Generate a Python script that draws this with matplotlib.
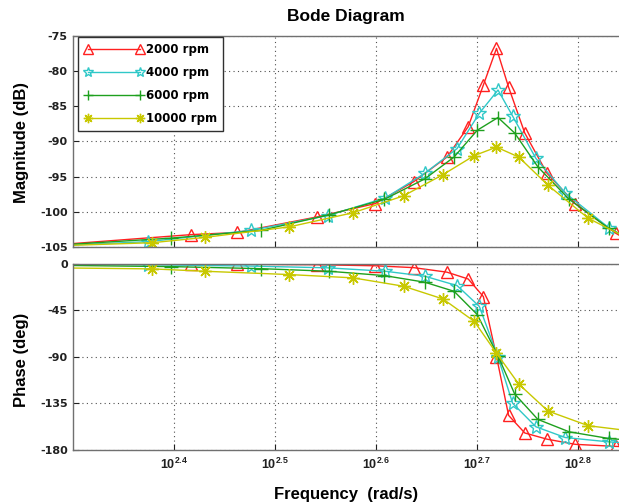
import numpy as np
import matplotlib
matplotlib.use("Agg")
import matplotlib.pyplot as plt
from matplotlib.ticker import FixedLocator, FixedFormatter

# ---- data (frequency exponents log10(rad/s), magnitude dB, phase deg) ----
labels = ["2000 rpm", "4000 rpm", "6000 rpm", "10000 rpm"]

exp_2000 = [2.26, 2.417, 2.462, 2.541, 2.599, 2.637, 2.670, 2.691, 2.706, 2.719, 2.731, 2.747, 2.769, 2.797, 2.837, 2.87]
mag_2000 = [-104.9, -103.2, -102.9, -100.7, -98.8, -95.7, -92.2, -87.9, -82.0, -76.8, -82.3, -88.8, -94.5, -98.8, -103.0, -105.8]
ph_2000 = [-0.3, -0.5, -0.8, -1.2, -2.2, -4.0, -8.4, -15.0, -32.0, -90.0, -147.0, -164.0, -170.0, -175.0, -177.0, -178.0]

exp_4000 = [2.26, 2.374, 2.476, 2.552, 2.609, 2.648, 2.680, 2.702, 2.7205, 2.735, 2.758, 2.787, 2.830, 2.87]
mag_4000 = [-104.9, -104.2, -102.6, -100.5, -98.0, -94.5, -91.0, -86.0, -82.7, -86.4, -92.4, -97.3, -102.2, -105.5]
ph_4000 = [-0.7, -1.2, -2.5, -4.2, -7.5, -12.3, -21.4, -41.5, -90.6, -135.3, -158.0, -168.4, -172.6, -175.0]

exp_6000 = [2.26, 2.397, 2.486, 2.553, 2.608, 2.648, 2.677, 2.700, 2.7205, 2.737, 2.760, 2.791, 2.830, 2.87]
mag_6000 = [-104.9, -103.7, -102.6, -100.4, -98.2, -95.3, -92.2, -88.4, -86.6, -88.8, -93.6, -98.2, -102.3, -105.3]
ph_6000 = [-1.5, -3.0, -5.0, -7.5, -11.7, -18.1, -26.9, -49.5, -89.4, -126.3, -150.9, -162.9, -169.3, -172.5]

exp_10000 = [2.26, 2.378, 2.430, 2.514, 2.577, 2.627, 2.666, 2.697, 2.719, 2.741, 2.770, 2.810, 2.86]
mag_10000 = [-104.9, -104.35, -103.6, -102.1, -100.1, -97.7, -94.7, -92.0, -90.8, -92.2, -96.2, -100.9, -104.5]
ph_10000 = [-4.0, -5.2, -7.5, -10.7, -13.9, -22.0, -34.3, -56.0, -86.8, -116.6, -142.8, -157.0, -163.0]

xtick_exps = [2.4, 2.5, 2.6, 2.7, 2.8]
xtick_labels = ["2.4", "2.5", "2.6", "2.7", "2.8"]
mag_ticks = [-105, -100, -95, -90, -85, -80, -75]
ph_ticks = [-180, -135, -90, -45, 0]

# ---- style ----
colors = ["#ff2020", "#30c8c8", "#1ea01e", "#c8c800"]
markers = ["^", "*", "+", (8, 2, 0)]
msizes = [9, 10, 10, 9]

plt.rcParams["font.family"] = ["Liberation Sans", "DejaVu Sans"]
plt.rcParams["font.weight"] = "bold"
plt.rcParams["mathtext.fontset"] = "custom"
plt.rcParams["mathtext.rm"] = "Liberation Sans:bold"
plt.rcParams["mathtext.bf"] = "Liberation Sans:bold"

W, H = 619, 504
fig = plt.figure(figsize=(W / 100, H / 100), dpi=100)

left = 73.3 / W
right = 1.0
ax1 = fig.add_axes([left, 1 - 247.3 / H, right - left, (247.3 - 35.7) / H])
ax2 = fig.add_axes([left, 1 - 449.5 / H, right - left, (449.5 - 263.5) / H])

series = [
    (exp_2000, mag_2000, ph_2000),
    (exp_4000, mag_4000, ph_4000),
    (exp_6000, mag_6000, ph_6000),
    (exp_10000, mag_10000, ph_10000),
]

xmin = 10 ** 2.3
xmax = 10 ** (2.3 + (619 - 73.3) / 1010.0)

for i, (e, m, p) in enumerate(series):
    w = 10 ** np.array(e)
    kw = dict(color=colors[i], lw=1.0, marker=markers[i], ms=msizes[i],
              mfc="none", mec=colors[i], mew=1.0)
    ax1.semilogx(w, m, label=labels[i], **kw)
    ax2.semilogx(w, p, **kw)

tick_font = dict(family="DejaVu Sans", weight="bold", size=8)

spine_col = "#707070"
for ax in (ax1, ax2):
    ax.set_xlim(xmin, xmax)
    ax.xaxis.set_major_locator(FixedLocator([10 ** v for v in xtick_exps]))
    ax.xaxis.set_minor_locator(FixedLocator([]))
    ax.grid(True, which="major", color="#505050", linestyle=(0, (1, 3)), linewidth=0.8)
    ax.tick_params(direction="in", length=4, width=0.8, colors="#202020",
                   pad=4, top=False, right=False)
    for s in ax.spines.values():
        s.set_color(spine_col)
        s.set_linewidth(1.0)
    ax.spines["right"].set_visible(False)

ax1.set_ylim(-105, -75)
ax1.yaxis.set_major_locator(FixedLocator(mag_ticks))
ax1.set_yticklabels([str(v) for v in mag_ticks], fontdict=tick_font)
ax1.tick_params(axis="x", labelbottom=False)

ax2.set_ylim(-180, 0)
ax2.yaxis.set_major_locator(FixedLocator(ph_ticks))
ax2.set_yticklabels([str(v) for v in ph_ticks], fontdict=tick_font)
ax2.xaxis.set_major_formatter(FixedFormatter([r"$\mathbf{10^{%s}}$" % t for t in xtick_labels]))
ax2.tick_params(axis="x", labelsize=9, pad=5)

leg = ax1.legend(loc="upper left", bbox_to_anchor=(0.009, 0.994), numpoints=2,
                 handlelength=5.0, handletextpad=0.25, borderpad=0.5,
                 labelspacing=0.85, fancybox=False, framealpha=1,
                 edgecolor="#303030",
                 prop=dict(family="DejaVu Sans", weight="bold", size=8.5),
                 markerscale=0.75, borderaxespad=0.0)
leg.get_frame().set_linewidth(1.0)

fig.text(346 / W, 1 - 17 / H, "Bode Diagram", ha="center", va="center",
         fontsize=12.5, fontweight="bold")
fig.text(21.7 / W, 1 - 142.5 / H, "Magnitude (dB)", ha="center", va="center",
         rotation=90, fontsize=12, fontweight="bold")
fig.text(21.7 / W, 1 - 360 / H, "Phase (deg)", ha="center", va="center",
         rotation=90, fontsize=12, fontweight="bold")
fig.text(346.5 / W, 1 - 495 / H, "Frequency  (rad/s)", ha="center", va="center",
         fontsize=12, fontweight="bold")

fig.savefig("out.png", dpi=100)
